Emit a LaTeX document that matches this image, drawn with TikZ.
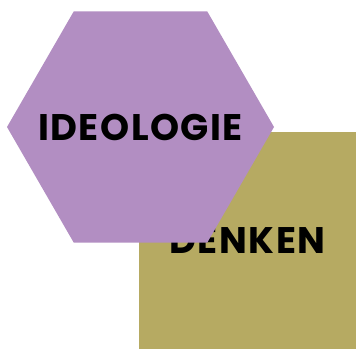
\documentclass[tikz,border=0pt]{standalone}
\usepackage{fontspec}
\setmainfont{Poppins}[LetterSpace=4]
\usepackage{tikz}
\usetikzlibrary{shapes.geometric}
\definecolor{hexpurple}{HTML}{B28EC2}
\definecolor{boxolive}{HTML}{B6AA62}
\tikzstyle{word}=[
font=\fontsize{37}{37}\selectfont\bfseries,
text=black,
inner sep=0pt,
outer sep=0pt
]
\tikzstyle{hexa}=[
regular polygon,
regular polygon sides=6,
minimum size=267pt,
inner sep=0pt,
outer sep=0pt,
fill=hexpurple
]
\tikzstyle{square}=[
word,
rectangle,
minimum width=217pt,
minimum height=217pt,
fill=boxolive
]

\begin{document}
\begin{tikzpicture}[x=1pt,y=-1pt]
\useasboundingbox (0,0) rectangle (356,349);

\node (denken) [square] at (247.5,240.5) {DENKEN};
\node (ideologie) [hexa] at (140.5,127) {};
\node (ideotext) [word] at (ideologie.center) {IDEOLOGIE};

\end{tikzpicture}
\end{document}
